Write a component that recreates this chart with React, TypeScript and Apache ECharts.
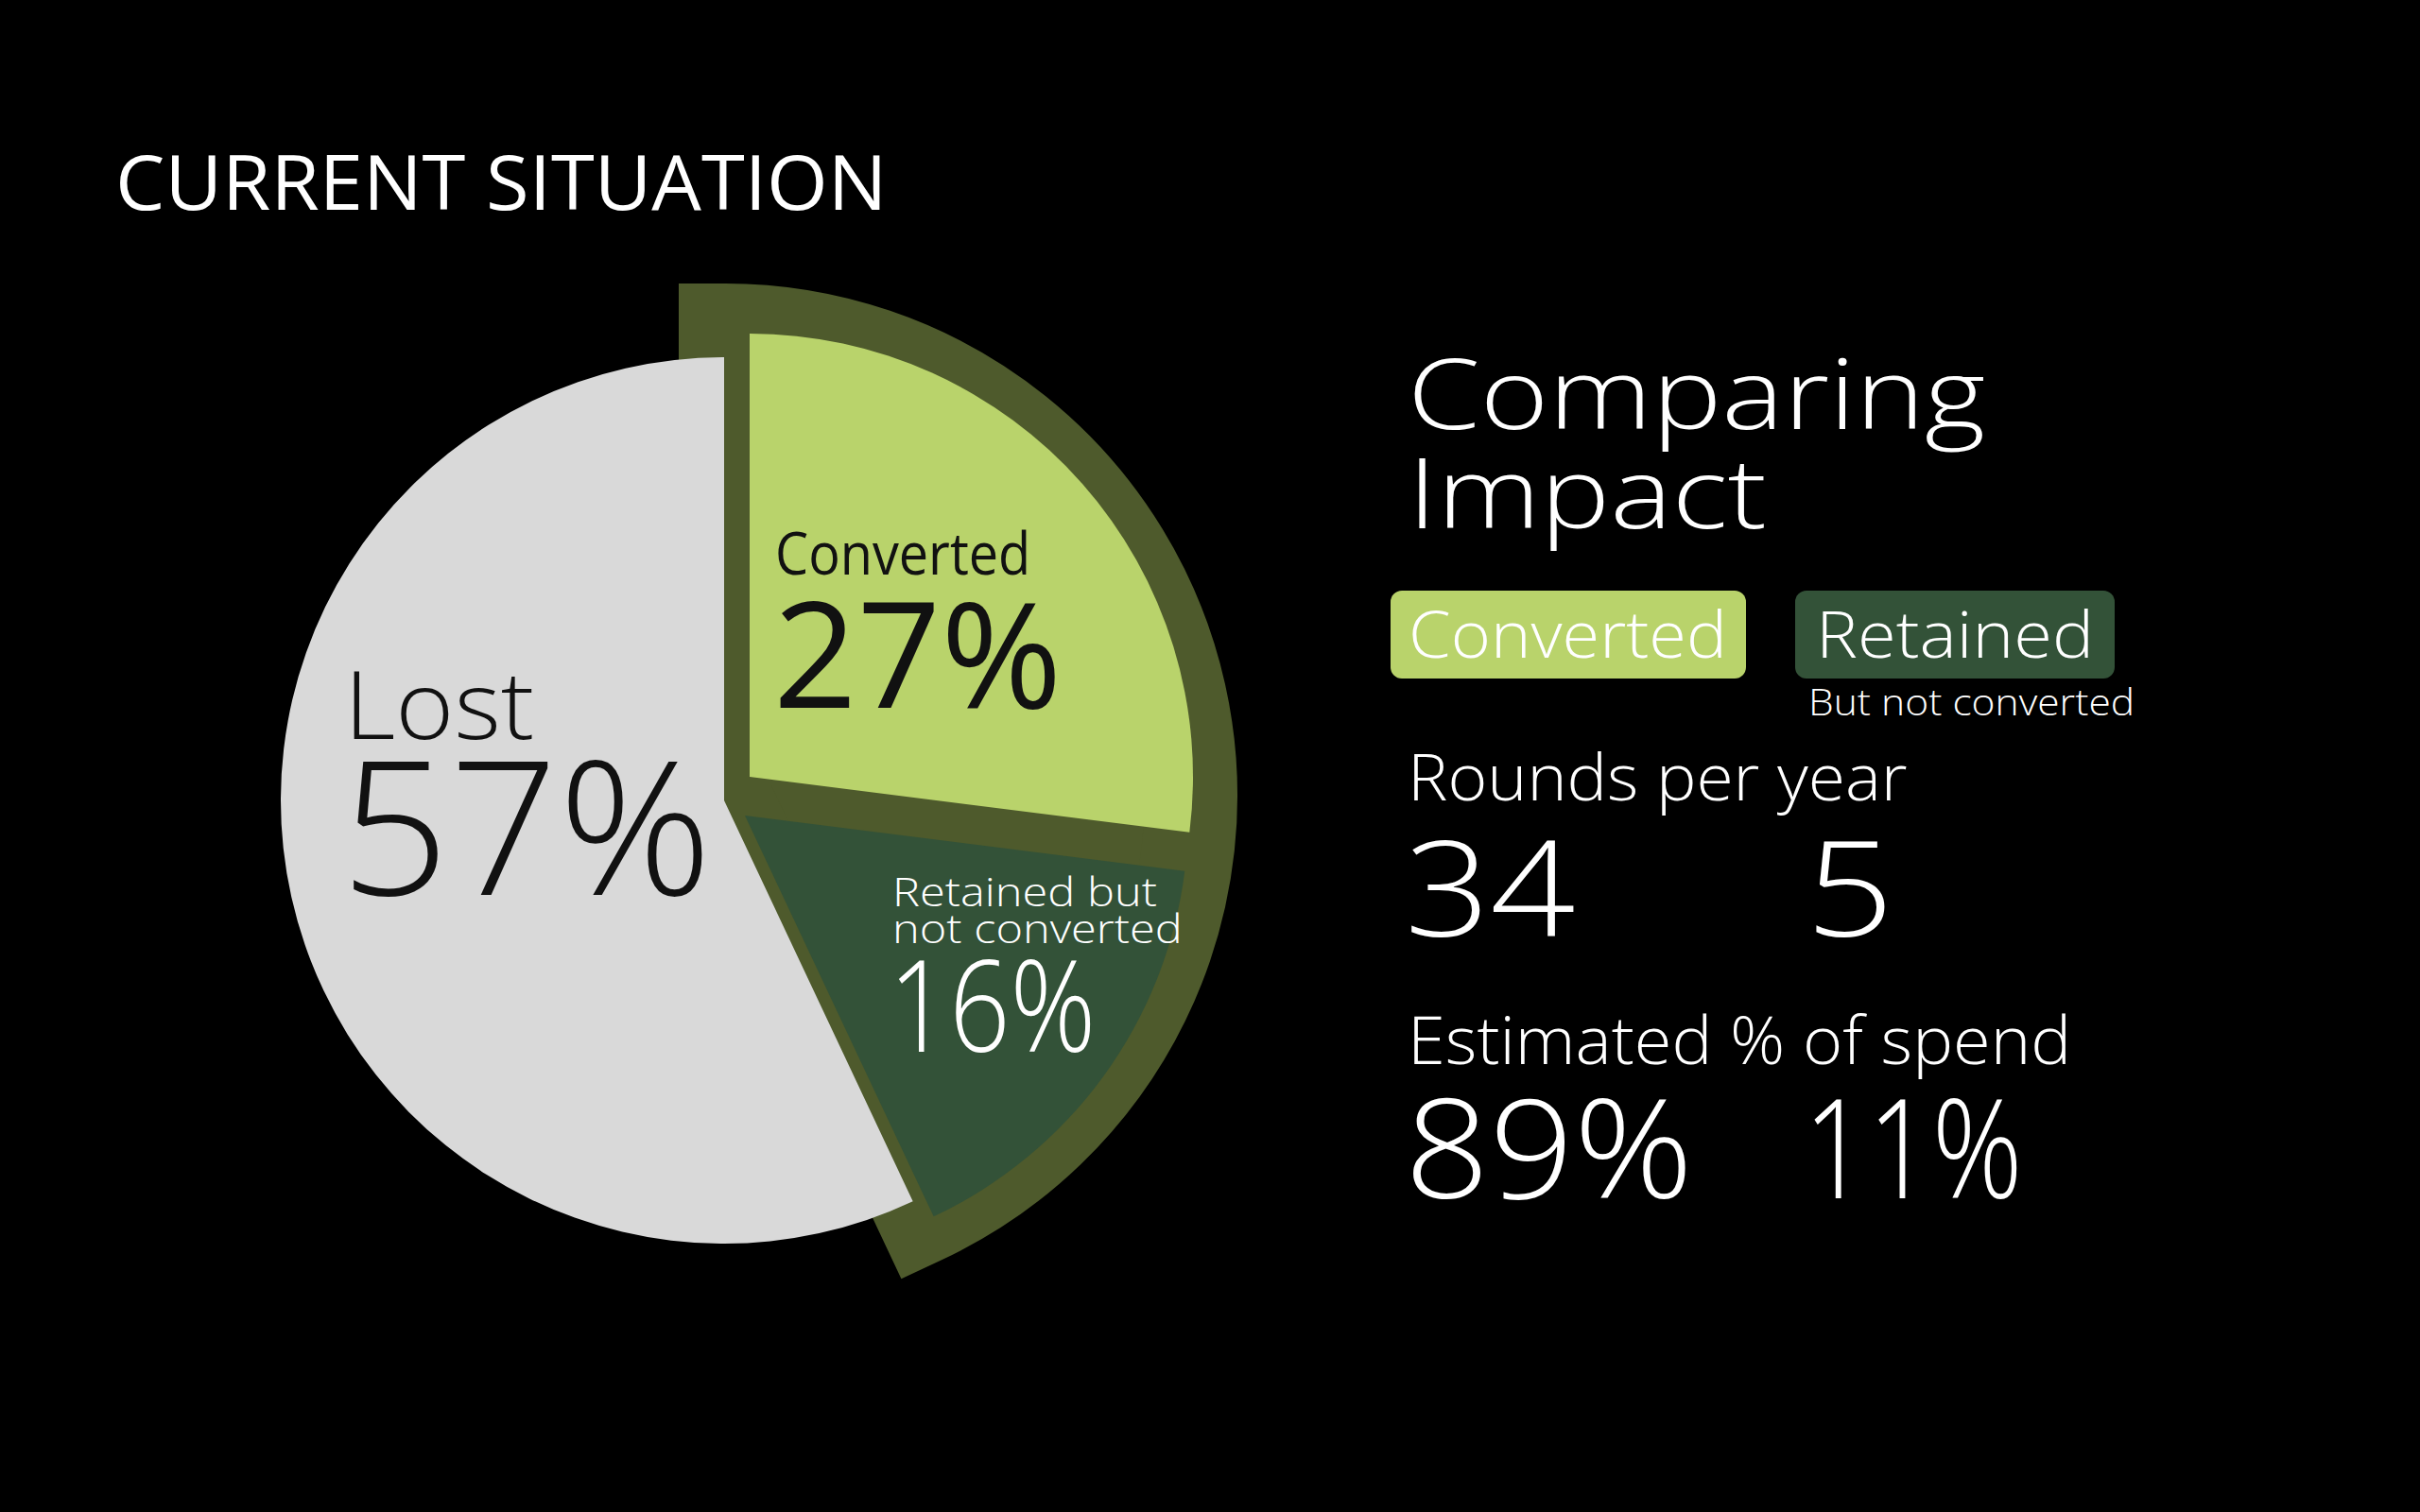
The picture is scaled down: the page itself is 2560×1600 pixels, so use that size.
import React, { useEffect, useRef } from 'react';
import * as echarts from 'echarts';

// ---- data ----
const categories = ['Converted', 'Retained but not converted', 'Lost'];
const shares = [27, 16, 57];
const legendNames = ['Converted', 'Retained'];
const legendNote = 'But not converted';
const metricTitles = ['Rounds per year', 'Estimated % of spend'];
const convertedMetrics = ['34', '89%'];
const retainedMetrics = ['5', '11%'];
const pageTitle = 'CURRENT SITUATION';
const panelTitle = ['Comparing', 'Impact'];

// ---- styles ----
const C_CONVERTED = '#b9d36b';
const C_RETAINED = '#335238';
const C_LOST = '#d9d9d9';
const C_HIGHLIGHT = '#4e5a2c';
const LIGHT = "'Open Sans', 'Noto Sans', sans-serif";

function sliceSeries(idx: number, center: number[], radius: number, color: string) {
  return {
    type: 'pie',
    center,
    radius: [0, radius],
    startAngle: 90,
    clockwise: true,
    silent: true,
    avoidLabelOverlap: false,
    label: { show: false },
    labelLine: { show: false },
    emphasis: { disabled: true },
    data: shares.map((v, i) => ({
      value: v,
      name: categories[i],
      itemStyle:
        i === idx
          ? { color, borderWidth: 0 }
          : { color: 'rgba(0,0,0,0)', borderWidth: 0 },
    })),
  };
}

function txt(text: string, x: number, y: number, size: number, opts: any = {}) {
  return {
    type: 'text',
    x,
    y,
    z: 100,
    scaleX: opts.sx || 1,
    silent: true,
    style: {
      text,
      fill: opts.fill || '#ffffff',
      fontSize: size,
      fontFamily: opts.family || LIGHT,
      fontWeight: opts.weight || 300,
      align: opts.align || 'left',
      verticalAlign: 'middle',
    },
  };
}

export default function App() {
  const ref = useRef<HTMLDivElement>(null);
  useEffect(() => {
    if (!ref.current) return;
    const chart = echarts.init(ref.current, null, { renderer: 'svg' });

    const highlight = {
      type: 'pie',
      center: [767, 842],
      radius: [0, 493],
      startAngle: 90,
      clockwise: true,
      silent: true,
      avoidLabelOverlap: false,
      label: { show: false },
      labelLine: { show: false },
      emphasis: { disabled: true },
      data: [
        {
          value: shares[0] + shares[1],
          name: 'Kept',
          itemStyle: {
            color: C_HIGHLIGHT,
            borderColor: C_HIGHLIGHT,
            borderWidth: 98,
            borderJoin: 'miter',
            borderMiterLimit: 20,
          },
        },
        { value: shares[2], name: 'Rest', itemStyle: { color: 'rgba(0,0,0,0)', borderWidth: 0 } },
      ],
    };

    const retainedLines = ['Retained but', 'not converted'];

    const graphics: any[] = [
      txt(pageTitle, 122, 191, 80, { weight: 400, sx: 1.04 }),
      // pie labels
      txt(categories[2].split(' ')[0], 364, 743, 100, { fill: '#111111', sx: 1.06 }),
      txt(`${shares[2]}%`, 360, 870, 198, { fill: '#111111', sx: 1.02 }),
      txt(categories[0], 820, 584, 62, { fill: '#111111', weight: 400, sx: 0.9 }),
      txt(`${shares[0]}%`, 818, 688, 155, { fill: '#111111', weight: 400 }),
      txt(retainedLines[0], 944, 942, 42, { sx: 1.16 }),
      txt(retainedLines[1], 944, 981, 42, { sx: 1.16 }),
      txt(`${shares[1]}%`, 940, 1061, 134, { sx: 0.84 }),
      // right panel
      {
        type: 'rect',
        z: 90,
        shape: { x: 1471, y: 625, width: 376, height: 93, r: 12 },
        style: { fill: C_CONVERTED },
        silent: true,
      },
      {
        type: 'rect',
        z: 90,
        shape: { x: 1899, y: 625, width: 338, height: 93, r: 12 },
        style: { fill: C_RETAINED },
        silent: true,
      },
      txt(panelTitle[0], 1489, 414, 104, { sx: 1.19 }),
      txt(panelTitle[1], 1489, 519, 104, { sx: 1.19 }),
      txt(legendNames[0], 1490, 670, 68, { sx: 1.06 }),
      txt(legendNames[1], 1921, 670, 68, { sx: 1.09 }),
      txt(legendNote, 1913, 742, 38, { sx: 1.12 }),
      txt(metricTitles[0], 1489, 820, 68, { sx: 1.05 }),
      txt(convertedMetrics[0], 1486, 937, 140, { sx: 1.13 }),
      txt(retainedMetrics[0], 1910, 937, 140, { sx: 1.17 }),
      txt(metricTitles[1], 1489, 1099, 70, { sx: 1.03 }),
      txt(convertedMetrics[1], 1486, 1212, 145, { sx: 1.08 }),
      txt(retainedMetrics[1], 1908, 1212, 145, { sx: 0.82 }),
    ];

    chart.setOption({
      animation: false,
      backgroundColor: '#000000',
      series: [
        highlight,
        sliceSeries(2, [766, 847], 469, C_LOST),
        sliceSeries(0, [793, 822], 469, C_CONVERTED),
        sliceSeries(1, [788, 863], 469, C_RETAINED),
      ],
      graphic: graphics,
    });
    return () => chart.dispose();
  }, []);
  return (
    <div
      ref={ref}
      style={{ position: 'fixed', left: 0, top: 0, width: 2560, height: 1600 }}
    />
  );
}
